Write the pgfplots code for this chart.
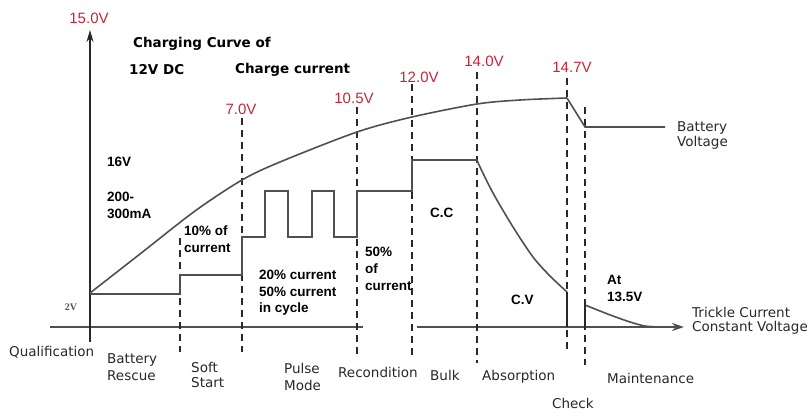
\documentclass[border=0pt]{standalone}
\usepackage{pgfplots}
\pgfplotsset{compat=1.18}
\usepackage{fontspec}
\setmainfont{DejaVu Sans}
\newfontfamily\arialf{Liberation Sans}
\newfontfamily\serf{Liberation Serif}
\usetikzlibrary{arrows.meta}
\definecolor{vred}{RGB}{196,38,56}
\definecolor{ln}{RGB}{80,80,80}
\definecolor{dk}{RGB}{40,40,40}
\tikzset{
  lbl/.style={anchor=west, inner sep=0pt, text=dk, font=\fontsize{13.5}{16}\selectfont},
  bl/.style={anchor=west, inner sep=0pt, text=black, font=\fontsize{13.5}{16}\selectfont\bfseries},
  ab/.style={anchor=west, inner sep=0pt, text=black, font=\arialf\fontsize{13.5}{16}\selectfont\bfseries},
  rv/.style={anchor=center, inner sep=0pt, text=vred, font=\arialf\fontsize{15}{18}\selectfont},
  dsh/.style={dk, line width=1.5pt, dash pattern=on 7pt off 5pt},
}
\begin{document}
\begin{tikzpicture}
\begin{axis}[scale only axis, width=812pt, height=412pt,
  xmin=0, xmax=812, ymin=0, ymax=412, y dir=reverse,
  hide axis, clip=false]
% frame for bounding box
\addplot[draw=none, forget plot] coordinates {(0,0) (812,412)};
% axes
\addplot[ln, line width=2pt] coordinates {(50,327) (363,327)};
\addplot[ln, line width=2pt, -{Stealth[length=12pt,width=8pt]}] coordinates {(417,327) (684,327)};
\addplot[dk, line width=1.5pt, -{Stealth[length=12pt,width=7pt]}] coordinates {(90,342) (90,30)};
% dashed phase separators
\addplot[dsh] coordinates {(180,238) (180,352)};
\addplot[dsh] coordinates {(242,118) (242,352)};
\addplot[dsh] coordinates {(357,107) (357,358)};
\addplot[dsh] coordinates {(412,84) (412,358)};
\addplot[dsh] coordinates {(477,72) (477,363)};
\addplot[dsh] coordinates {(567,78) (567,353)};
\addplot[dsh] coordinates {(585,107) (585,365)};
% battery voltage
\addplot[ln, line width=1.6pt, smooth] coordinates {(90,293) (140,254) (195,211) (242,180) (280,162) (357,132) (412,117) (477,104) (520,100) (567,98)};
\addplot[ln, line width=1.6pt] coordinates {(567,98) (585,127) (665,127)};
% charge current
\addplot[ln, line width=2pt] coordinates {(90,294) (180,294) (180,275) (242,275) (242,237) (265,237) (265,191) (288,191) (288,237) (312,237) (312,191) (334,191) (334,237) (357,237) (357,191) (412,191) (412,160) (477,160)};
\addplot[ln, line width=1.6pt, smooth] coordinates {(477,160) (480,167) (493,193) (513,227) (533,257) (550,276) (567,292)};
\addplot[dk, line width=1.6pt] coordinates {(567,292) (567,327)};
\addplot[ln, line width=1.6pt, smooth] coordinates {(585,305) (600,311) (613,316) (630,322) (645,326) (660,327)};
\addplot[dk, line width=1.6pt] coordinates {(585,305) (585,327)};
% red voltage labels
\node[rv] at (axis cs:89,18) {15.0V};
\node[rv] at (axis cs:241,109) {7.0V};
\node[rv] at (axis cs:354,98) {10.5V};
\node[rv] at (axis cs:419,77) {12.0V};
\node[rv] at (axis cs:484,61) {14.0V};
\node[rv] at (axis cs:572,67) {14.7V};
% title texts
\node[bl] at (axis cs:133,44) {Charging Curve of};
\node[bl] at (axis cs:129,70) {12V DC};
\node[bl] at (axis cs:235,70) {Charge current};
% bold annotations
\node[ab] at (axis cs:107,162) {16V};
\node[ab] at (axis cs:107,197) {200-};
\node[ab] at (axis cs:107,214) {300mA};
\node[ab] at (axis cs:184,231) {10\% of};
\node[ab] at (axis cs:184,248) {current};
\node[ab] at (axis cs:259,275) {20\% current};
\node[ab] at (axis cs:259,292) {50\% current};
\node[ab] at (axis cs:259,309) {in cycle};
\node[ab] at (axis cs:365,252) {50\%};
\node[ab] at (axis cs:365,269) {of};
\node[ab] at (axis cs:365,286) {current};
\node[ab] at (axis cs:430,213) {C.C};
\node[ab] at (axis cs:511,300) {C.V};
\node[ab] at (axis cs:607,280) {At};
\node[ab] at (axis cs:607,297) {13.5V};
% small 2V
\node[anchor=center, inner sep=0pt, text=ln, font=\serf\fontsize{10}{11}\selectfont\bfseries] at (axis cs:71,307) {2V};
% right labels
\node[lbl] at (axis cs:677,128) {Battery};
\node[lbl] at (axis cs:677,143) {Voltage};
\node[lbl] at (axis cs:692,312) {Trickle Current};
\node[lbl] at (axis cs:692,328) {Constant Voltage};
% phase labels
\node[lbl] at (axis cs:9,352) {Qualification};
\node[lbl] at (axis cs:107,360) {Battery};
\node[lbl] at (axis cs:107,376) {Rescue};
\node[lbl] at (axis cs:191,367) {Soft};
\node[lbl] at (axis cs:191,383) {Start};
\node[lbl] at (axis cs:284,368) {Pulse};
\node[lbl] at (axis cs:284,385) {Mode};
\node[lbl] at (axis cs:338,372) {Recondition};
\node[lbl] at (axis cs:430,375) {Bulk};
\node[lbl] at (axis cs:482,377) {Absorption};
\node[lbl] at (axis cs:552,403) {Check};
\node[lbl] at (axis cs:607,378) {Maintenance};
\end{axis}
\end{tikzpicture}
\end{document}
